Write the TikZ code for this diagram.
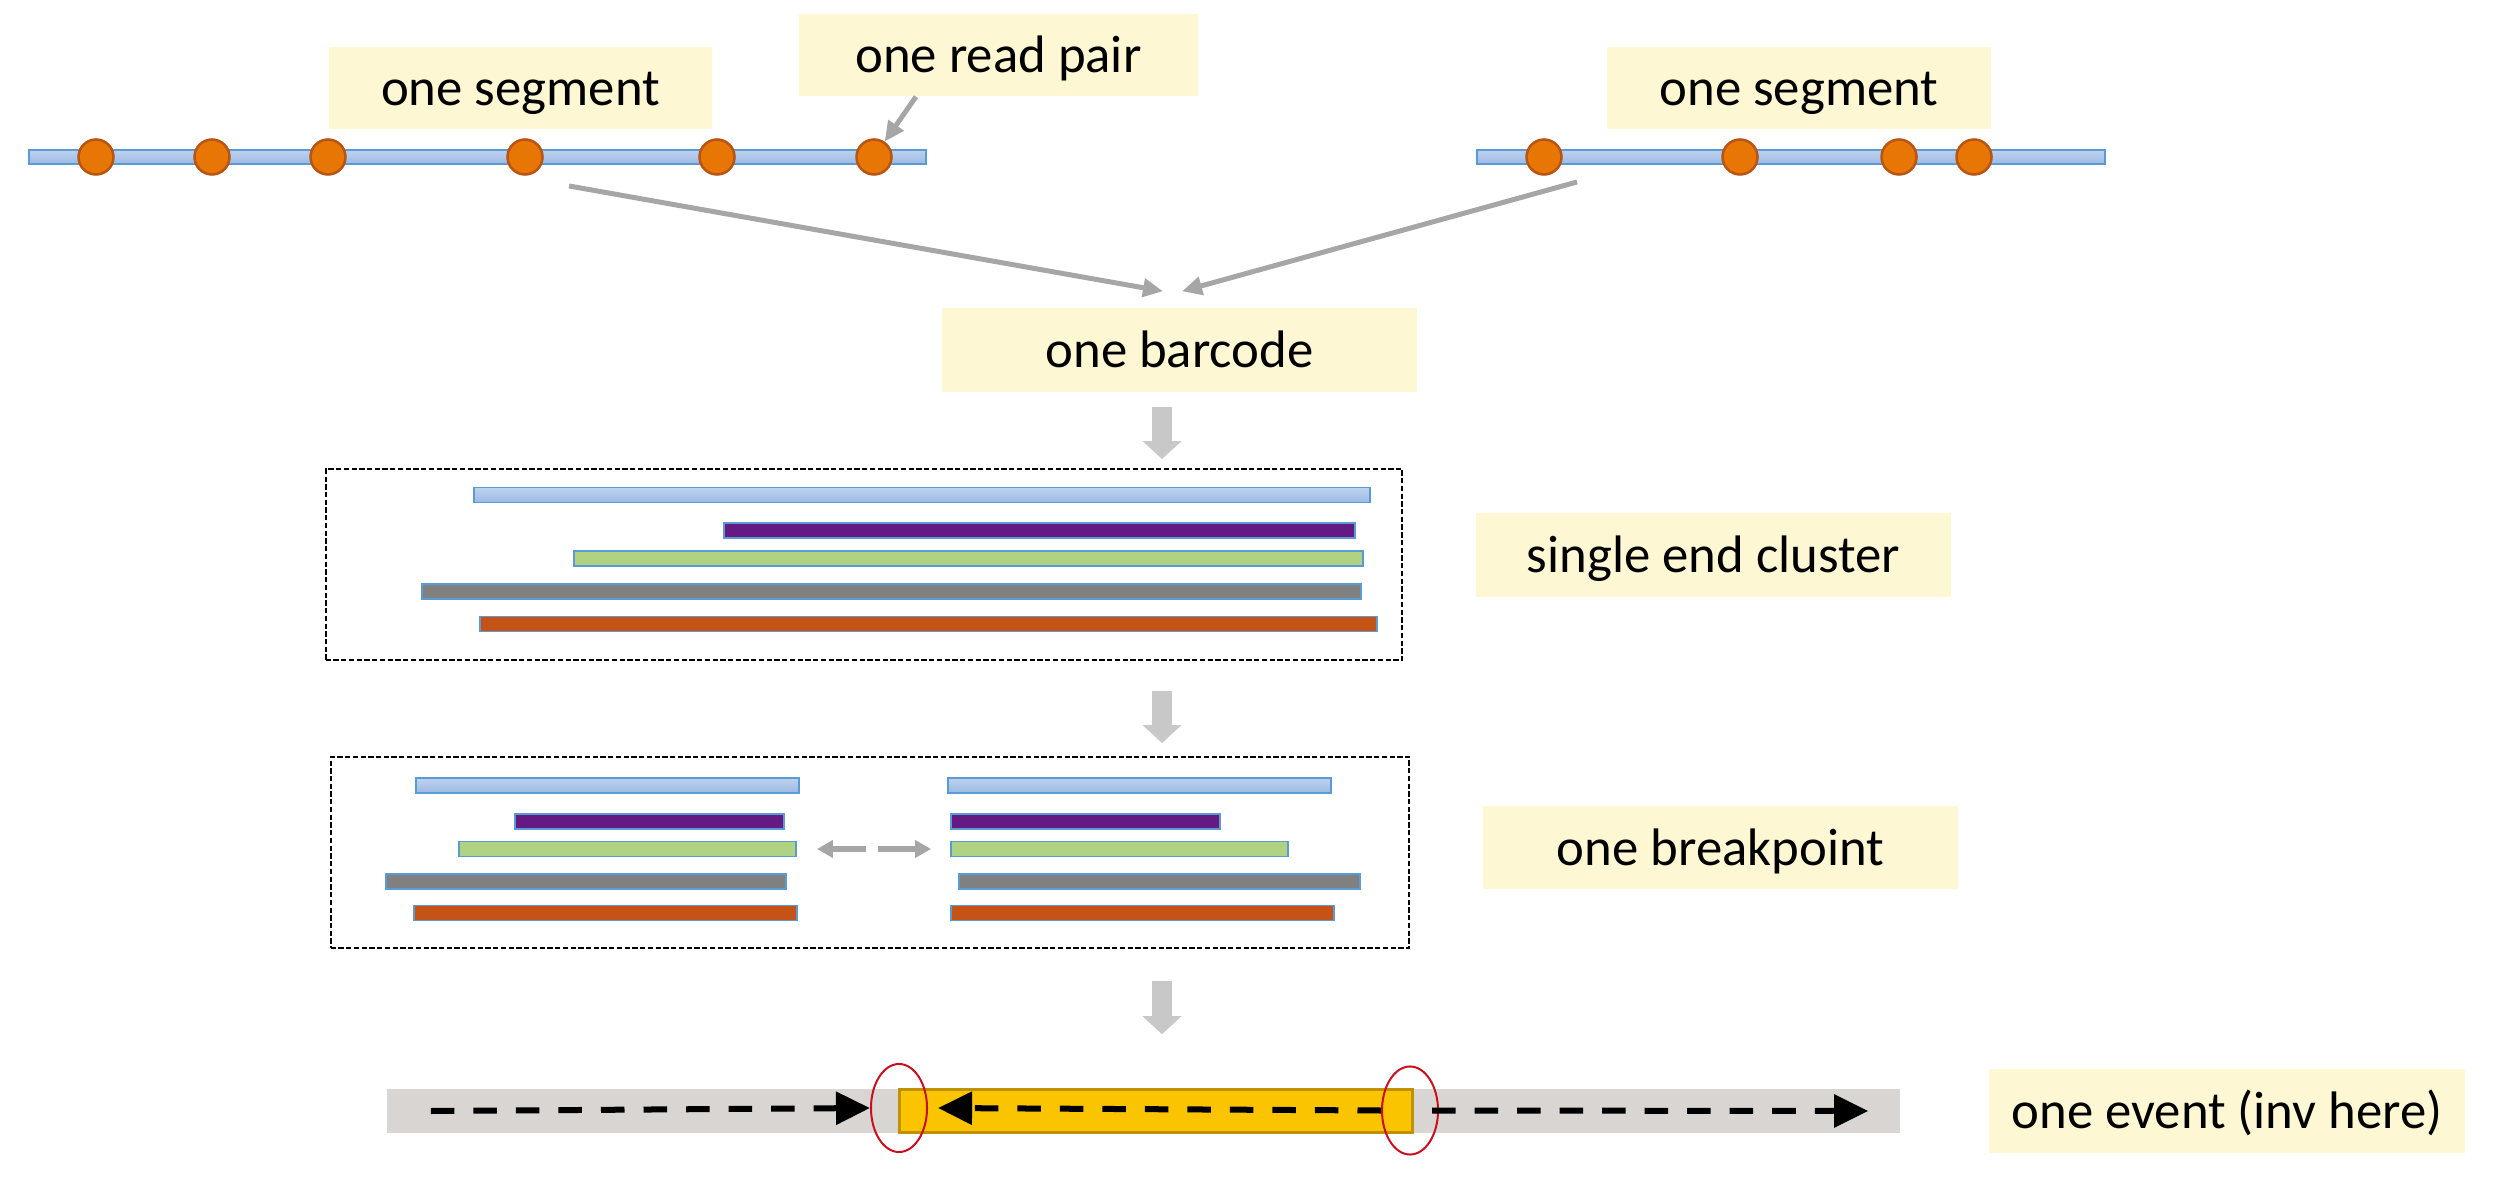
\documentclass[tikz,border=0pt]{standalone}
\usepackage{fontspec}
\setmainfont{Carlito}
\usetikzlibrary{arrows.meta,shapes.geometric}

\definecolor{notefill}{RGB}{253,247,211}
\definecolor{barline}{RGB}{91,155,213}
\definecolor{bluetop}{RGB}{190,210,238}
\definecolor{bluebot}{RGB}{156,186,228}
\definecolor{readpurple}{RGB}{100,26,130}
\definecolor{readgreen}{RGB}{176,210,131}
\definecolor{readgrey}{RGB}{128,128,128}
\definecolor{readorange}{RGB}{197,83,22}
\definecolor{dotfill}{RGB}{232,118,4}
\definecolor{dotline}{RGB}{184,84,20}
\definecolor{arrowgrey}{RGB}{166,166,166}
\definecolor{fatgrey}{RGB}{200,200,200}
\definecolor{chromgrey}{RGB}{217,213,210}
\definecolor{invfill}{RGB}{250,196,0}
\definecolor{invline}{RGB}{191,144,0}
\definecolor{ringred}{RGB}{200,16,30}

\tikzset{
    note/.style={fill=notefill, inner sep=0pt, minimum width=4.75cm, minimum height=0.84cm,
        text height=11.2pt, text depth=1pt, font=\fontsize{15}{18}\selectfont},
    segline/.style={draw=barline, line width=0.6pt, top color=bluetop, bottom color=bluebot,
        inner sep=0pt, minimum height=0.14cm},
    readdot/.style={circle, draw=dotline, fill=dotfill, line width=0.025cm, inner sep=0pt,
        minimum size=0.35cm},
    readbar/.style={draw=barline, line width=0.5pt},
    bluebar/.style={readbar, top color=bluetop, bottom color=bluebot},
    frame/.style={draw, line width=0.5pt, dash pattern=on 1.5pt off 0.7pt, inner sep=0pt},
    greyarrow/.style={draw=arrowgrey, line width=0.05cm, -{Triangle[length=0.2cm, width=0.18cm]}},
    midarrow/.style={draw=arrowgrey, line width=0.055cm, -{Triangle[length=0.16cm, width=0.17cm]}},
    fatarrow/.style={draw=fatgrey, line width=0.2cm, -{Triangle[length=0.18cm, width=0.38cm]}},
    dasharrow/.style={line width=0.06cm, dash pattern=on 0.235cm off 0.19cm,
        -{Triangle[length=0.34cm, width=0.32cm]}},
    bpring/.style={ellipse, draw=ringred, line width=0.02cm, inner sep=0pt,
        minimum width=0.56cm, minimum height=0.88cm}
}

\begin{document}
\begin{tikzpicture}[x=0.01cm, y=-0.01cm]
    \useasboundingbox (0, 0) rectangle (2498, 1204);

    \node (segl) [segline, minimum width=8.97cm] at (477.5, 157) {};
    \node (segr) [segline, minimum width=6.28cm] at (1791, 157) {};
    \foreach \x [count=\i] in {96, 212, 328, 525, 717, 874}
        \node (l\i) [readdot] at (\x, 157) {};
    \foreach \x [count=\i] in {1544, 1740, 1899, 1974}
        \node (r\i) [readdot] at (\x, 157) {};

    \node (segnotel) [note, minimum width=3.83cm, minimum height=0.82cm] at (520.5, 88) {one segment};
    \node (pair) [note, minimum width=3.99cm, minimum height=0.82cm] at (998.5, 55) {one read pair};
    \node (segnoter) [note, minimum width=3.84cm, minimum height=0.82cm] at (1799, 88) {one segment};
    \node (barcode) [note] at (1179.5, 350) {one barcode};
    \node (clusternote) [note] at (1713.5, 555) {single end cluster};
    \node (bpnote) [note, minimum height=0.83cm] at (1720.5, 847.5) {one breakpoint};
    \node (eventnote) [note, minimum width=4.76cm] at (2227, 1111) {one event (inv here)};

    \draw [greyarrow] ([xshift=-0.825cm]pair.south) -- (l6);
    \coordinate (lfoot) at (569, 186);
    \coordinate (rfoot) at (1577, 182);
    \draw [greyarrow] (lfoot) -- ([xshift=-0.165cm, yshift=0.16cm]barcode.north);
    \draw [greyarrow] (rfoot) -- ([xshift=0.025cm, yshift=0.16cm]barcode.north);

    \node (clusterbox) [frame, minimum width=10.76cm, minimum height=1.91cm] at (864, 564.5) {};
    \path [bluebar] (474, 487.5) rectangle (1370, 502.5);
    \foreach \a/\b/\y/\c in {724/1355/530.5/readpurple, 574/1363/558.5/readgreen,
        422/1361/591.5/readgrey, 480/1377/624/readorange}
        \path [readbar, fill=\c] (\a, \y - 7.5) rectangle (\b, \y + 7.5);

    \node (bpbox) [frame, minimum width=10.78cm, minimum height=1.91cm] at (870, 852.5) {};
    \path [bluebar] (416, 778) rectangle (799, 793);
    \path [bluebar] (948, 778) rectangle (1331, 793);
    \foreach \a/\b/\y/\c in {515/784/821.5/readpurple, 459/796/849/readgreen,
        386/786/881.5/readgrey, 414/797/913/readorange,
        951/1220/821.5/readpurple, 951/1288/849/readgreen,
        959/1360/881.5/readgrey, 951/1334/913/readorange}
        \path [readbar, fill=\c] (\a, \y - 7.5) rectangle (\b, \y + 7.5);
    \coordinate (bpmid) at (872, 849);
    \draw [midarrow] ([xshift=-0.06cm]bpmid) -- ([xshift=-0.55cm]bpmid);
    \draw [midarrow] ([xshift=0.06cm]bpmid) -- ([xshift=0.59cm]bpmid);

    \node (chrom) [fill=chromgrey, inner sep=0pt, minimum width=15.13cm, minimum height=0.44cm] at (1143.5, 1111) {};
    \node (inv) [fill=invfill, draw=invline, line width=0.03cm, inner sep=0pt,
        minimum width=5.13cm, minimum height=0.43cm] at (1156, 1111) {};
    \node (bpl) [bpring] at (899, 1108) {};
    \node (bpr) [bpring] at (1410, 1110.5) {};
    \draw [dasharrow] ([xshift=0.45cm]chrom.west) -- (bpl.west);
    \draw [dasharrow] (bpr.west) -- ([xshift=0.1cm]bpl.east);
    \draw [dasharrow] ([xshift=-0.07cm]bpr.east) -- ([xshift=-0.33cm]chrom.east);

    \coordinate (spine) at (1162, 0);
    \draw [fatarrow, shorten <=0.14cm, shorten >=0.09cm] (barcode.south -| spine) -- (clusterbox.north -| spine);
    \draw [fatarrow, shorten <=0.30cm, shorten >=0.13cm] (clusterbox.south -| spine) -- (bpbox.north -| spine);
    \draw [fatarrow, shorten <=0.32cm, shorten >=0.54cm] (bpbox.south -| spine) -- (chrom.north -| spine);
\end{tikzpicture}
\end{document}
